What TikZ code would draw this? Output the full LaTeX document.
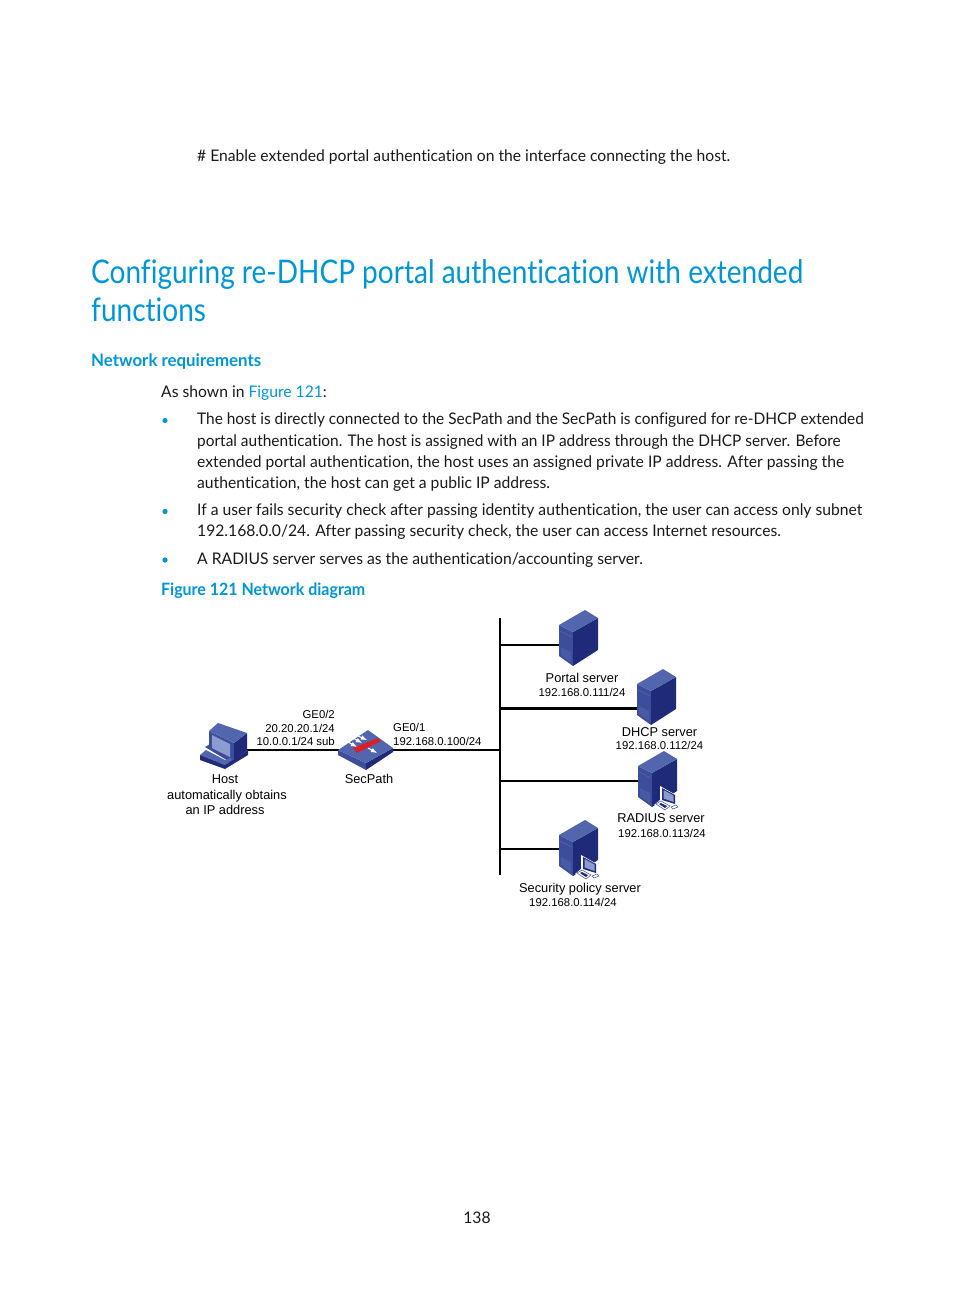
\documentclass[tikz,border=0pt]{standalone}
\usepackage{fontspec}
\setmainfont[FakeStretch=0.98,Ligatures=NoCommon]{Lato}
\newfontfamily\tightfont[FakeStretch=0.964,Ligatures=NoCommon]{Lato}
\newfontfamily\titlefont[FakeStretch=0.862,Ligatures=NoCommon]{Lato}
\newfontfamily\capfont[FakeStretch=0.94,Ligatures=NoCommon]{Lato}
\newfontfamily\labelfont{Liberation Sans}
\definecolor{hpblue}{HTML}{0096D6}
\definecolor{iconfront}{HTML}{3E4D9B}
\definecolor{iconside}{HTML}{1F2A78}
\definecolor{icontop}{HTML}{5266AE}
\definecolor{iconscreen}{HTML}{8C9CD0}
\definecolor{iconred}{HTML}{D8202A}
\tikzset{
	bodyline/.style={anchor=base west, inner sep=0pt, font=\fontsize{16}{16}\selectfont, text=black!90},
	tightline/.style={anchor=base west, inner sep=0pt, font=\tightfont\fontsize{16}{16}\selectfont, text=black!90},
	titleline/.style={anchor=base west, inner sep=0pt, font=\titlefont\fontsize{32.5}{32}\selectfont, text=hpblue},
	headline/.style={anchor=base west, inner sep=0pt, font=\bfseries\fontsize{17.2}{17}\selectfont, text=hpblue},
	capline/.style={anchor=base west, inner sep=0pt, font=\capfont\bfseries\fontsize{17}{17}\selectfont, text=hpblue},
	netname/.style={anchor=base, inner sep=0pt, font=\labelfont\fontsize{12.8}{13}\selectfont},
	netaddr/.style={anchor=base, inner sep=0pt, font=\labelfont\fontsize{11.35}{12}\selectfont},
	lan/.style={line width=2pt, black},
	lanthick/.style={line width=3pt, black},
	flowarrow/.style={white, line width=1.1pt, -latex}
}
% server tower, #1 = front top corner
\def\towerbox(#1,#2){
	\fill[iconfront] (#1-14,#2-7) -- (#1,#2) -- (#1,#2+34) -- (#1-14,#2+24) -- cycle;
	\fill[iconside] (#1,#2) -- (#1+25,#2-14) -- (#1+25,#2+18) -- (#1,#2+34) -- cycle;
	\fill[icontop] (#1-14,#2-7) -- (#1+12,#2-22) -- (#1+25,#2-14) -- (#1,#2) -- cycle;
	\draw[icontop, line width=0.5pt] (#1-13,#2-1) -- (#1-1,#2+5);
	\fill[icontop!50!iconfront] (#1-12,#2+15) -- (#1-2,#2+20) -- (#1-2,#2+30) -- (#1-12,#2+23) -- cycle;
}
% small console beside a tower
\def\consolebox(#1,#2){
	\fill[white] (#1+8,#2+13) -- (#1+24,#2+22) -- (#1+24,#2+33) -- (#1+28,#2+33) -- (#1+22,#2+40) -- (#1+2,#2+32) -- (#1+8,#2+27) -- cycle;
	\fill[iconside] (#1+10,#2+15) -- (#1+23,#2+22) -- (#1+23,#2+31) -- (#1+10,#2+27) -- cycle;
	\fill[iconscreen] (#1+11.5,#2+17) -- (#1+21.5,#2+22.5) -- (#1+21.5,#2+29) -- (#1+11.5,#2+25.5) -- cycle;
	\draw[iconfront, fill=white, line width=0.5pt] (#1+4,#2+31) -- (#1+9,#2+28) -- (#1+18,#2+33) -- (#1+13,#2+37) -- cycle;
	\fill[iconside] (#1+7,#2+31) -- (#1+9,#2+30) -- (#1+15,#2+33) -- (#1+13,#2+35) -- cycle;
	\draw[iconfront, fill=white, line width=0.5pt] (#1+19,#2+34) -- (#1+24,#2+32) -- (#1+26,#2+34) -- (#1+21,#2+36) -- cycle;
}
\begin{document}
\begin{tikzpicture}[x=1pt, y=-1pt]
	\useasboundingbox (0,0) rectangle (954,1296);
	
	%%%%% PAGE TEXT %%%%%
	\node[bodyline] (enable) at (197,161) {\# Enable extended portal authentication on the interface connecting the host.};
	\node[titleline] (title1) at (91,283) {Configuring re-DHCP portal authentication with extended};
	\node[titleline] (title2) at (91,321) {functions};
	\node[headline] (netreq) at (91,366) {Network requirements};
	\node[bodyline] (shown) at (161,397) {As shown in {\color{hpblue}Figure 121}:};
	
	\node[tightline] (b1a) at (197,424) {The host is directly connected to the SecPath and the SecPath is configured for re-DHCP extended};
	\node[tightline] (b1b) at (197,446) {portal authentication. The host is assigned with an IP address through the DHCP server. Before};
	\node[bodyline] (b1c) at (197,467) {extended portal authentication, the host uses an assigned private IP address. After passing the};
	\node[bodyline] (b1d) at (197,488) {authentication, the host can get a public IP address.};
	\node[bodyline] (b2a) at (197,515) {If a user fails security check after passing identity authentication, the user can access only subnet};
	\node[bodyline] (b2b) at (197,536) {192.168.0.0/24. After passing security check, the user can access Internet resources.};
	\node[bodyline] (b3a) at (197,564) {A RADIUS server serves as the authentication/accounting server.};
	
	\fill[hpblue] (165,420.5) circle (2.6);
	\fill[hpblue] (165,511.5) circle (2.6);
	\fill[hpblue] (165,560) circle (2.6);
	
	\node[capline] (figcap) at (161,595) {Figure 121 Network diagram};
	\node[bodyline, anchor=base] (pagenum) at (477,1223) {138};
	
	%%%%% DIAGRAM %%%%%
	\coordinate (bustop) at (500,618);
	\coordinate (busbot) at (500,875);
	\coordinate (busport) at (500,645);
	\coordinate (busdhcp) at (500,708);
	\coordinate (busmain) at (500,750);
	\coordinate (busrad) at (500,781);
	\coordinate (bussec) at (500,849);
	\coordinate (portal) at (560,645);
	\coordinate (dhcp) at (638,708);
	\coordinate (radius) at (640,781);
	\coordinate (secpol) at (560,849);
	\coordinate (host) at (246,750);
	\coordinate (fwleft) at (339,750);
	\coordinate (fwright) at (392,750);
	
	\draw[lan] (bustop) -- (busbot);
	\draw[lan] (busport) -- (portal);
	\draw[lanthick] (busdhcp) -- (dhcp);
	\draw[lan] (busrad) -- (radius);
	\draw[lan] (bussec) -- (secpol);
	\draw[lan] (host) -- (fwleft);
	\draw[lan] (fwright) -- (busmain);
	
	\towerbox(573,632)
	\towerbox(651,691)
	\towerbox(652,773)
	\consolebox(652,773)
	\towerbox(573,842)
	\consolebox(573,842)
	
	% host
	\fill[iconfront] (205,747) -- (212,743) -- (248,750) -- (230,762) -- cycle;
	\fill[icontop] (200,755) -- (206,750) -- (225,760) -- (248,750) -- (225,765) -- cycle;
	\fill[iconside] (200,755) -- (225,765) -- (225,769) -- (200,760) -- cycle;
	\fill[iconside] (225,765) -- (248,750) -- (248,755) -- (225,769) -- cycle;
	\fill[iconfront] (209,731) -- (234,743) -- (234,760) -- (209,747) -- cycle;
	\fill[iconside] (234,743) -- (247,733) -- (247,750) -- (234,760) -- cycle;
	\fill[icontop] (209,731) -- (218,723) -- (247,733) -- (234,743) -- cycle;
	\fill[iconscreen] (212,735) -- (230,744) -- (230,757) -- (212,748) -- cycle;
	
	% secpath
	\fill[iconfront] (338,750) -- (366,763) -- (366,770) -- (338,755) -- cycle;
	\fill[iconside] (366,763) -- (393,748) -- (393,752) -- (366,770) -- cycle;
	\fill[icontop] (338,750) -- (368,730) -- (393,748) -- (366,763) -- cycle;
	\draw[flowarrow] (348,742) -- (357,747);
	\draw[flowarrow] (353,738) -- (362,743);
	\draw[flowarrow] (358,736) -- (367,740);
	\draw[flowarrow] (368,748) -- (377,753);
	\fill[iconred] (353,748) -- (378,738) -- (381,741) -- (357,753) -- cycle;
	
	% labels
	\node[netaddr, anchor=base east] (ge2) at (335,718) {GE0/2};
	\node[netaddr, anchor=base east] (ge2a) at (335,732) {20.20.20.1/24};
	\node[netaddr, anchor=base east] (ge2b) at (335,745) {10.0.0.1/24 sub};
	\node[netaddr, anchor=base west] (ge1) at (393,731) {GE0/1};
	\node[netaddr, anchor=base west] (ge1a) at (393,745) {192.168.0.100/24};
	
	\node[netname] (hostname) at (225,783) {Host};
	\node[netname] (hostb) at (227,799) {automatically obtains};
	\node[netname] (hostc) at (225,814) {an IP address};
	\node[netname] (fwname) at (369,783) {SecPath};
	\node[netname] (portname) at (582,682) {Portal server};
	\node[netaddr] (portip) at (582,696) {192.168.0.111/24};
	\node[netname] (dhcpname) at (659.5,736) {DHCP server};
	\node[netaddr] (dhcpip) at (659.5,749) {192.168.0.112/24};
	\node[netname] (radname) at (661,822) {RADIUS server};
	\node[netaddr] (radip) at (662,837) {192.168.0.113/24};
	\node[netname] (secname) at (580,892) {Security policy server};
	\node[netaddr] (secip) at (573,906) {192.168.0.114/24};
	%%%%% END %%%%%
\end{tikzpicture}
\end{document}
